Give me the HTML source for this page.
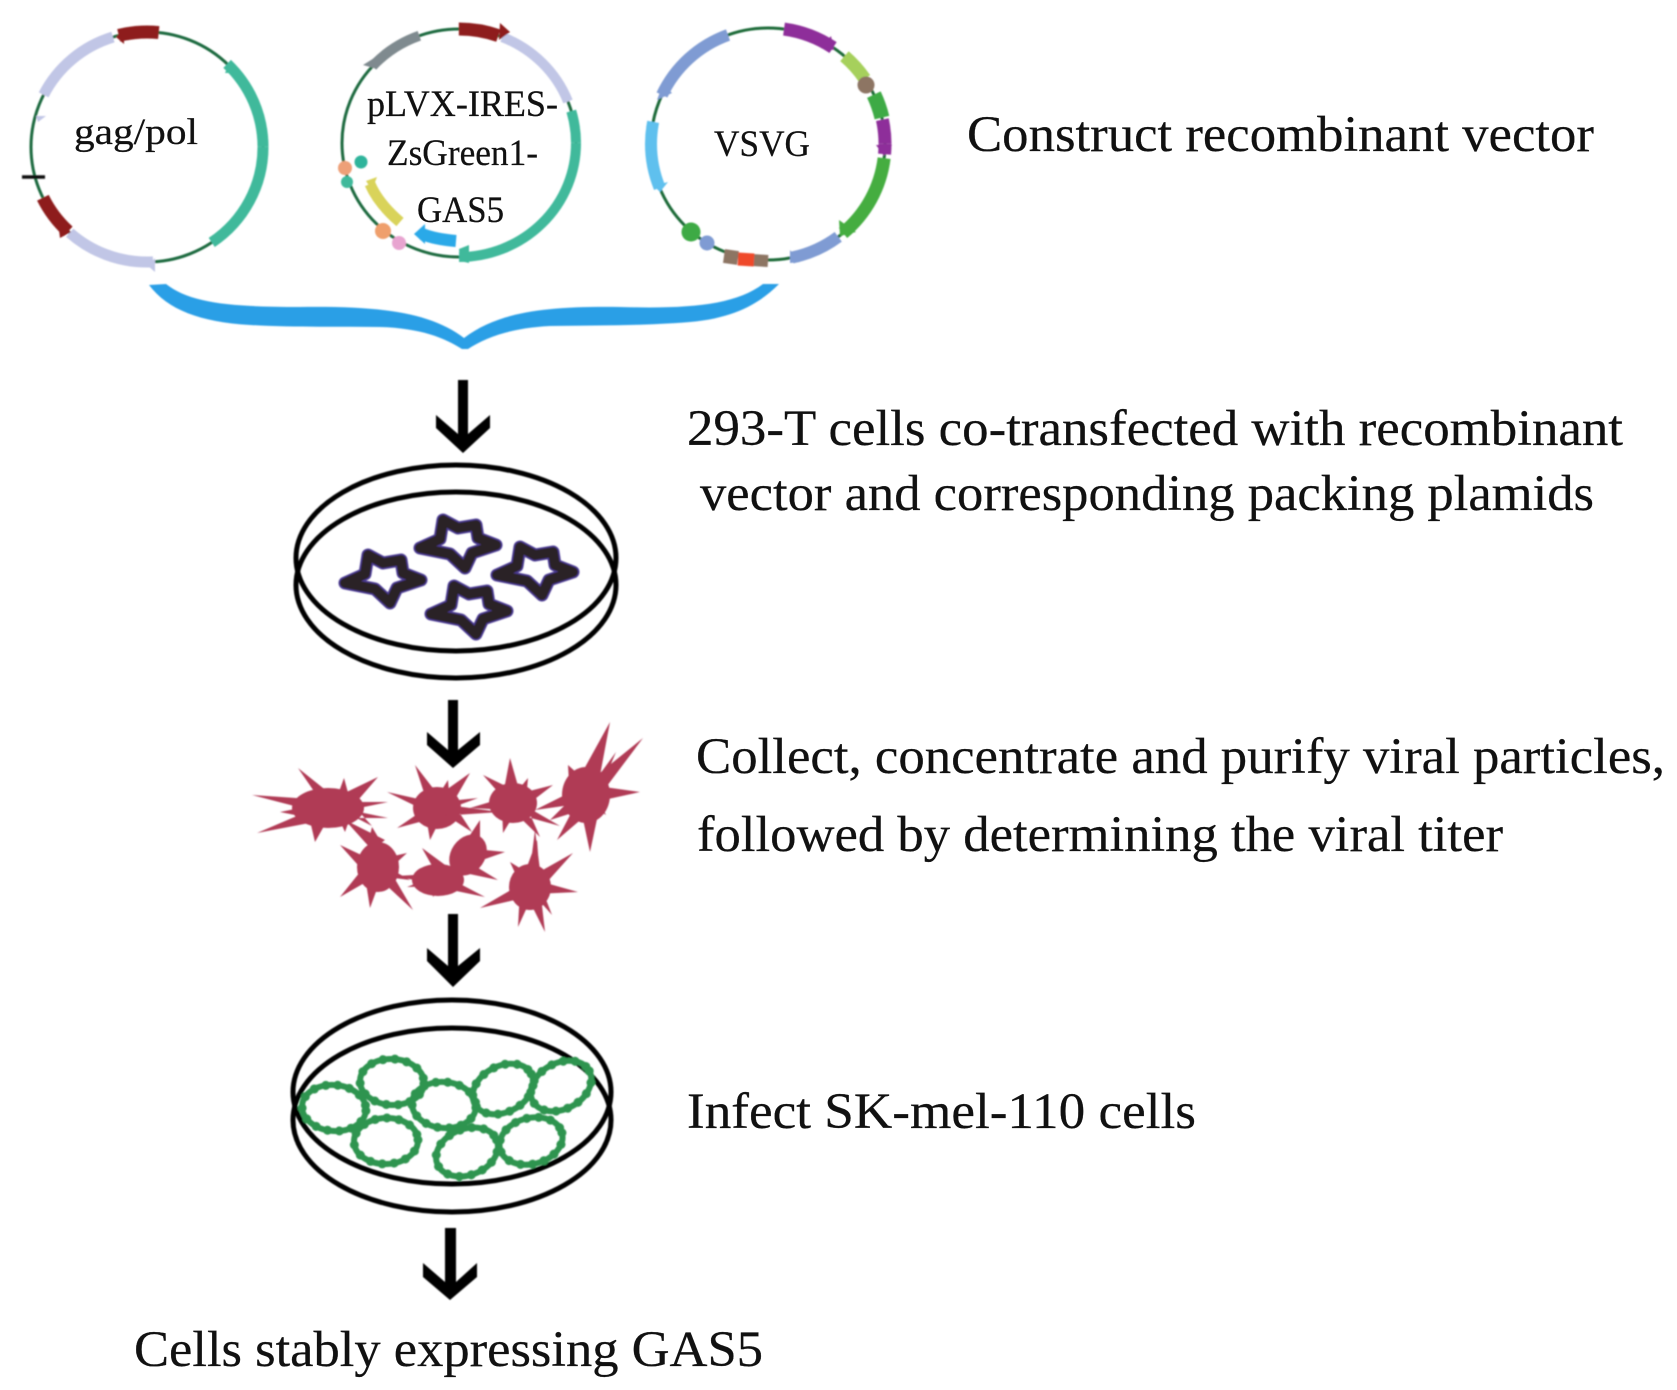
<!DOCTYPE html>
<html><head><meta charset="utf-8">
<style>
html,body{margin:0;padding:0;background:#fff;width:1677px;height:1390px;overflow:hidden}
svg{display:block}
text{font-family:"Liberation Serif",serif;fill:#111;stroke:#111;stroke-width:.25}
.t{font-size:51px}
.l{font-size:37px}
</style></head><body>
<svg width="1677" height="1390" viewBox="0 0 1677 1390" xmlns="http://www.w3.org/2000/svg">
<defs>
<filter id="b" x="-5%" y="-5%" width="110%" height="110%"><feGaussianBlur stdDeviation="0.9"/></filter>
<g id="star"><path d="M-15,-23 L0,-15 L18,-18 L20,-5 L38,2 L14,10 L7,25 L-8,11 L-38,5 L-18,-4 Z" fill="none" stroke="#4b3a94" stroke-width="13" stroke-linejoin="round"/><path d="M-15,-23 L0,-15 L18,-18 L20,-5 L38,2 L14,10 L7,25 L-8,11 L-38,5 L-18,-4 Z" fill="none" stroke="#2b2428" stroke-width="10" stroke-linejoin="round"/></g>
<g id="cell"><ellipse rx="32" ry="23" fill="none" stroke="#2f9450" stroke-width="6"/><ellipse rx="32" ry="23" fill="none" stroke="#2f9450" stroke-width="9" stroke-linecap="round" stroke-dasharray="0 12"/></g>
</defs>

<g filter="url(#b)">
<!-- Plasmid 1 -->
<g fill="none" stroke-width="11">
<ellipse cx="147" cy="147" rx="116" ry="115" stroke="#1f6b3f" stroke-width="3"/>
<g transform="translate(147 147)">
<ellipse rx="116" ry="115" pathLength="360" stroke="#8e1c1c" stroke-width="13" stroke-dasharray="20 340" stroke-dashoffset="-256"/>
<ellipse rx="116" ry="115" pathLength="360" stroke="#c1c6e6" stroke-dasharray="46 314" stroke-dashoffset="-207"/>
<ellipse rx="116" ry="115" pathLength="360" stroke="#3fb99b" stroke-dasharray="46 314" stroke-dashoffset="-314"/>
<ellipse rx="116" ry="115" pathLength="360" stroke="#3fb99b" stroke-dasharray="56 304"/>
<ellipse rx="116" ry="115" pathLength="360" stroke="#c1c6e6" stroke-dasharray="45 315" stroke-dashoffset="-87"/>
<ellipse rx="116" ry="115" pathLength="360" stroke="#8e1c1c" stroke-width="13" stroke-dasharray="21 339" stroke-dashoffset="-133"/>
</g>
<path d="M22,177 H45" stroke="#111" stroke-width="3.5"/>
</g>
<polygon points="116,37 124,29 124,44" fill="#8e1c1c"/>
<polygon points="58,222 71,232 60,238" fill="#8e1c1c"/>
<polygon points="155,258 155,272 148,266" fill="#c1c6e6"/>
<polygon points="231,60 238,73 225,73" fill="#3fb99b"/>
<polygon points="36,116 46,116 38,122" fill="#c1c6e6"/>

<!-- Plasmid 2 -->
<g fill="none" stroke-width="10">
<ellipse cx="459" cy="143" rx="117" ry="114" stroke="#1f6b3f" stroke-width="3"/>
<g transform="translate(459 143)">
<ellipse rx="117" ry="114" pathLength="360" stroke="#8e1c1c" stroke-width="13" stroke-dasharray="20 340" stroke-dashoffset="-270"/>
<ellipse rx="117" ry="114" pathLength="360" stroke="#c1c6e6" stroke-dasharray="47 313" stroke-dashoffset="-292"/>
<ellipse rx="117" ry="114" pathLength="360" stroke="#3fb99b" stroke-dasharray="16 344" stroke-dashoffset="-344"/>
<ellipse rx="117" ry="114" pathLength="360" stroke="#3fb99b" stroke-dasharray="90 270"/>
<ellipse rx="117" ry="114" pathLength="360" stroke="#7f8a8f" stroke-dasharray="28 332" stroke-dashoffset="-222"/>
</g>
<path d="M370,184 C376,198 386,210 400,222" stroke="#d9d35a" stroke-width="11"/>
<path d="M422,234 C432,238 444,240 456,241" stroke="#2aa9e8" stroke-width="12"/>
</g>
<polygon points="500,23 510,32 499,40" fill="#8e1c1c"/>
<polygon points="363,65 379,55 377,69" fill="#7f8a8f"/>
<polygon points="459,249 469,245 469,263 460,261" fill="#3fb99b"/>
<polygon points="414,234 425,224 425,244" fill="#2aa9e8"/>
<polygon points="366,181 377,177 372,190" fill="#d9d35a"/>
<circle cx="345" cy="168" r="7" fill="#eea078"/>
<circle cx="361" cy="162" r="6.5" fill="#2fb49b"/>
<circle cx="347" cy="182" r="6" fill="#3fb99b"/>
<circle cx="383" cy="231" r="8" fill="#ef9f6c"/>
<circle cx="399" cy="243" r="7" fill="#e8a4d0"/>

<!-- Plasmid 3 -->
<g fill="none" stroke-width="12">
<ellipse cx="768" cy="144" rx="117" ry="116" stroke="#1a6b38" stroke-width="3"/>
<g transform="translate(768 144)">
<ellipse rx="117" ry="116" pathLength="360" stroke="#7f9bd3" stroke-dasharray="45 315" stroke-dashoffset="-205"/>
<ellipse rx="117" ry="116" pathLength="360" stroke="#5fc0ee" stroke-dasharray="33 327" stroke-dashoffset="-158"/>
<ellipse rx="117" ry="116" pathLength="360" stroke="#8e2f9a" stroke-width="13" stroke-dasharray="26 334" stroke-dashoffset="-278"/>
<ellipse rx="117" ry="116" pathLength="360" stroke="#a6d05c" stroke-width="13" stroke-dasharray="15 345" stroke-dashoffset="-311"/>
<ellipse rx="117" ry="116" pathLength="360" stroke="#3daa45" stroke-width="15" stroke-dasharray="12 348" stroke-dashoffset="-335"/>
<ellipse rx="117" ry="116" pathLength="360" stroke="#8e2f9a" stroke-width="13" stroke-dasharray="12 348" stroke-dashoffset="-348"/>
<ellipse rx="117" ry="116" pathLength="360" stroke="#8e2f9a" stroke-width="13" stroke-dasharray="5 355"/>
<ellipse rx="117" ry="116" pathLength="360" stroke="#45ad3f" stroke-width="13" stroke-dasharray="43 317" stroke-dashoffset="-7"/>
<ellipse rx="117" ry="116" pathLength="360" stroke="#7f9bd3" stroke-dasharray="25 335" stroke-dashoffset="-53"/>
</g>
<path d="M724,256 L738,258" stroke="#8d7464" stroke-width="14"/>
<path d="M752,260 L768,261" stroke="#8d7464" stroke-width="12"/>
<path d="M738,259 L754,260" stroke="#ef4a2c" stroke-width="13"/>
</g>
<circle cx="866" cy="85" r="8.5" fill="#8d7464"/>
<circle cx="691" cy="232" r="9.5" fill="#3daa45"/>
<circle cx="707" cy="243" r="7.5" fill="#7f9bd3"/>
<polygon points="657,100 672,93 663,84" fill="#7f9bd3"/>
<polygon points="654,186 668,182 660,192" fill="#5fc0ee"/>
<polygon points="831,36 834,50 821,48" fill="#8e2f9a"/>
<polygon points="876,145 892,145 884,156" fill="#8e2f9a"/>
<polygon points="839,220 856,232 840,236" fill="#45ad3f"/>
<polygon points="790,250 800,262 790,263" fill="#7f9bd3"/>

<!-- Brace -->
<path d="M149,285 L166,284 C190,303 230,307 300,307 C380,306 430,312 464,338 C498,312 545,306 620,307 C690,309 735,305 763,284 L779,284 C760,303 735,318 690,322 C640,326 600,325 550,326 C510,328 485,338 468,349 L462,349 C445,338 420,328 380,327 C340,326 300,328 250,325 C200,322 168,310 149,285 Z" fill="#2a9fe6"/>

<!-- Arrows -->
<g fill="#000">
<polygon points="436,415 458,434 458,380 468,380 468,434 490,415 490,428 463,453 436,428"/>
<polygon points="427,732 448,750 448,700 458,700 458,750 480,732 480,745 453,768 427,745"/>
<polygon points="427,948 448,966 448,914 458,914 458,966 480,948 480,961 453,987 427,961"/>
<polygon points="423,1263 445,1282 445,1228 456,1228 456,1282 477,1263 477,1277 450,1300 423,1277"/>
</g>

<!-- Dish 1 -->
<g fill="none" stroke="#000" stroke-width="5">
<ellipse cx="456" cy="558" rx="160" ry="93"/>
<ellipse cx="456" cy="585" rx="160" ry="93"/>
</g>
<use href="#star" x="383" y="578"/>
<use href="#star" x="458" y="543"/>
<use href="#star" x="535" y="570"/>
<use href="#star" x="469" y="609"/>

<!-- Bursts -->
<g fill="#b03a55">
<ellipse cx="328" cy="808" rx="36" ry="20"/>
<path d="M252,795 L325,800 L325,814 Z M257,833 L325,804 L325,820 Z M298,768 L320,800 L338,800 Z M378,777 L330,800 L346,814 Z M388,802 L340,802 L340,812 Z M388,818 L340,808 L340,818 Z M315,842 L308,812 L332,812 Z M345,832 L336,812 L352,812 Z M344,778 L336,800 L350,800 Z M280,812 L310,806 L310,818 Z M372,826 L345,812 L352,804 Z"/>
<ellipse cx="437" cy="808" rx="24" ry="21"/>
<path d="M387,792 L432,802 L432,814 Z M415,765 L428,805 L446,805 Z M470,773 L432,800 L446,815 Z M478,798 L440,802 L440,812 Z M472,832 L432,806 L446,792 Z M430,840 L425,810 L445,810 Z M397,828 L435,802 L442,816 Z M448,780 L432,805 L450,805 Z M500,812 L440,804 L440,816 Z"/>
<ellipse cx="513" cy="803" rx="24" ry="20"/>
<path d="M510,758 L502,800 L522,800 Z M483,775 L505,800 L518,792 Z M553,785 L510,796 L518,812 Z M470,808 L510,796 L510,810 Z M540,837 L508,806 L522,796 Z M503,833 L502,805 L520,805 Z M528,778 L510,800 L526,800 Z M560,826 L515,800 L520,815 Z"/>
<ellipse cx="586" cy="795" rx="24" ry="28"/>
<path d="M610,722 L578,780 L598,786 Z M643,738 L585,785 L598,798 Z M640,792 L590,785 L590,803 Z M590,852 L580,805 L600,805 Z M557,840 L578,800 L592,810 Z M550,820 L580,790 L588,808 Z M568,765 L570,800 L596,790 Z M535,810 L585,785 L585,803 Z M606,815 L584,800 L596,795 Z M616,752 L592,785 L600,790 Z"/>
<ellipse cx="378" cy="867" rx="21" ry="25"/>
<path d="M340,845 L372,860 L366,874 Z M340,897 L368,862 L380,874 Z M370,908 L364,870 L384,870 Z M413,910 L372,872 L385,862 Z M407,853 L376,860 L382,876 Z M372,827 L364,860 L392,860 Z M345,820 L372,850 L385,840 Z M410,880 L378,862 L378,876 Z"/>
<ellipse cx="438" cy="880" rx="26" ry="16"/>
<ellipse cx="468" cy="855" rx="17" ry="22" transform="rotate(35 468 855)"/>
<path d="M422,848 L440,880 L452,870 Z M407,887 L440,874 L440,886 Z M433,897 L432,878 L448,878 Z M485,897 L445,876 L442,888 Z M480,820 L460,850 L480,855 Z M505,852 L465,848 L468,865 Z M396,876 L432,874 L432,884 Z M498,880 L465,860 L460,872 Z"/>
<ellipse cx="530" cy="887" rx="21" ry="23"/>
<path d="M537,840 L522,880 L540,880 Z M573,853 L525,880 L538,892 Z M578,892 L535,880 L535,894 Z M545,932 L524,890 L540,888 Z M518,927 L520,890 L534,892 Z M480,908 L528,880 L532,896 Z M510,862 L522,888 L536,878 Z M552,915 L530,890 L540,884 Z M535,830 L530,870 L540,870 Z"/>
</g>

<!-- Dish 2 -->
<g fill="none" stroke="#000" stroke-width="5">
<ellipse cx="452" cy="1092" rx="159" ry="92"/>
<ellipse cx="452" cy="1120" rx="159" ry="92"/>
</g>
<use href="#cell" transform="translate(334 1108) rotate(5)"/>
<use href="#cell" transform="translate(392 1082) rotate(3)"/>
<use href="#cell" transform="translate(386 1141) rotate(-2)"/>
<use href="#cell" transform="translate(444 1105) rotate(5)"/>
<use href="#cell" transform="translate(503 1089) rotate(-28)"/>
<use href="#cell" transform="translate(561 1086) rotate(-28)"/>
<use href="#cell" transform="translate(467 1152) rotate(-22)"/>
<use href="#cell" transform="translate(531 1141) rotate(-15)"/>
</g>

<!-- Labels -->
<text class="l" x="74" y="144" textLength="124" lengthAdjust="spacingAndGlyphs">gag/pol</text>
<text class="l" x="367" y="116" textLength="191" lengthAdjust="spacingAndGlyphs">pLVX-IRES-</text>
<text class="l" x="387" y="165" textLength="151" lengthAdjust="spacingAndGlyphs">ZsGreen1-</text>
<text class="l" x="417" y="222" textLength="87" lengthAdjust="spacingAndGlyphs">GAS5</text>
<text class="l" x="714" y="156" textLength="96" lengthAdjust="spacingAndGlyphs">VSVG</text>

<text class="t" x="967" y="151" textLength="627" lengthAdjust="spacingAndGlyphs">Construct recombinant vector</text>
<text class="t" x="687" y="445" textLength="936" lengthAdjust="spacingAndGlyphs">293-T cells co-transfected with recombinant</text>
<text class="t" x="700" y="510" textLength="894" lengthAdjust="spacingAndGlyphs">vector and corresponding packing plamids</text>
<text class="t" x="696" y="773" textLength="969" lengthAdjust="spacingAndGlyphs">Collect, concentrate and purify viral particles,</text>
<text class="t" x="697" y="851" textLength="806" lengthAdjust="spacingAndGlyphs">followed by determining the viral titer</text>
<text class="t" x="687" y="1128" textLength="509" lengthAdjust="spacingAndGlyphs">Infect SK-mel-110 cells</text>
<text class="t" x="134" y="1366" textLength="629" lengthAdjust="spacingAndGlyphs">Cells stably expressing GAS5</text>
</svg>
</body></html>
